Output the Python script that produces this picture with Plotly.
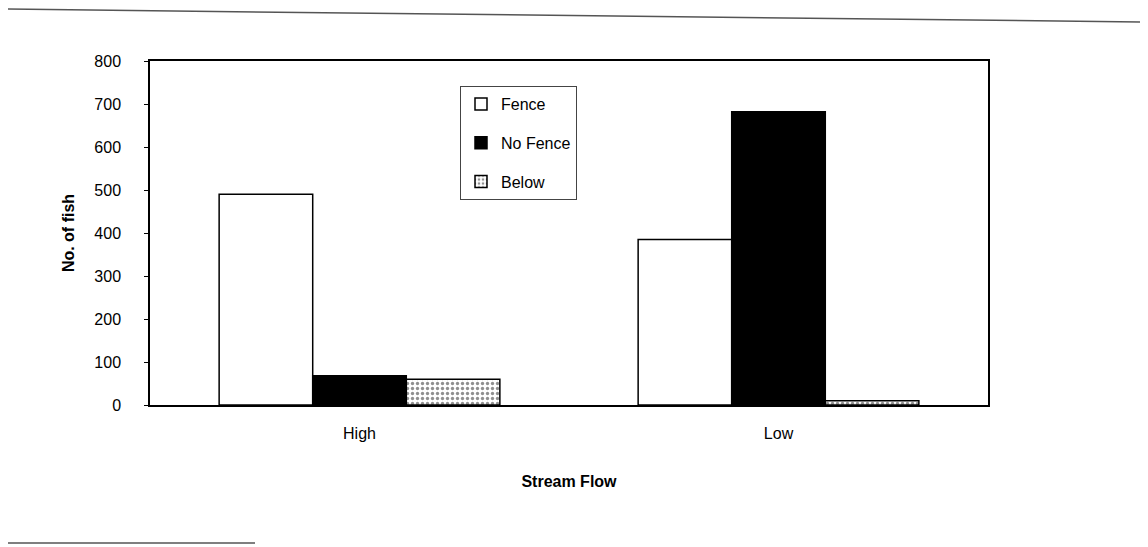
import plotly.graph_objects as go

categories = ["High", "Low"]
fence = [490, 385]
no_fence = [68, 682]
below = [60, 10]
y_ticks = [0, 100, 200, 300, 400, 500, 600, 700, 800]

FONT = "Liberation Sans, Arial, sans-serif"

# page geometry of the plot area (page has an 8px body offset)
PX0, PX1, PY0, PY1 = 150, 988, 61, 405
PW, PH = PX1 - PX0, PY1 - PY0


def px(x):
    return (x - PX0) / PW


def py(y):
    return (PY1 - y) / PH


fig = go.Figure()
fig.add_trace(go.Bar(name="Fence", x=categories, y=fence, legendgroup="a",
                     marker=dict(color="white", line=dict(color="black", width=1.5))))
fig.add_trace(go.Bar(name="No Fence", x=categories, y=no_fence, legendgroup="b",
                     marker=dict(color="black", line=dict(color="black", width=1.5))))
fig.add_trace(go.Bar(name="Below", x=categories, y=below, legendgroup="c",
                     marker=dict(color="white", line=dict(color="black", width=1.5),
                                 pattern=dict(shape=".", fgcolor="#222222", bgcolor="white",
                                              size=5, solidity=0.35))))

fig.update_layout(
    width=1148, height=547,
    paper_bgcolor="white", plot_bgcolor="white",
    margin=dict(l=PX0 - 8, r=1148 - PX1 + 8, t=PY0 - 8, b=547 - PY1 + 8, pad=0),
    barmode="group", bargap=0.33, bargroupgap=0,
    font=dict(family=FONT, size=16, color="black"),
    showlegend=True,
    legend=dict(x=px(460), y=py(86), xanchor="left", yanchor="top",
                bgcolor="white", bordercolor="#444444", borderwidth=1,
                font=dict(family=FONT, size=16, color="black"),
                traceorder="grouped", tracegroupgap=15, itemwidth=30),
    xaxis=dict(showline=True, linecolor="black", linewidth=1.5, mirror=True,
               ticks="", tickfont=dict(family=FONT, size=16), ticklabelstandoff=13,
               title=dict(text="<b>Stream Flow</b>", font=dict(family=FONT, size=16), standoff=35)),
    yaxis=dict(range=[0, 800], tickvals=y_ticks, showline=True, linecolor="black", linewidth=1.5,
               mirror=True, ticks="outside", ticklen=4, tickcolor="black", showgrid=False,
               zeroline=False, tickfont=dict(family=FONT, size=16), ticklabelstandoff=20,
               title=dict(text="<b>No. of fish</b>", font=dict(family=FONT, size=16), standoff=16)),
)

# scanned page rules
fig.add_shape(type="line", xref="paper", yref="paper", x0=px(0), x1=px(1148),
              y0=py(9), y1=py(22), line=dict(color="#555555", width=1.5))
fig.add_shape(type="line", xref="paper", yref="paper", x0=px(0), x1=px(255),
              y0=py(543), y1=py(543), line=dict(color="#555555", width=1.5))

fig.write_html("out.html")
